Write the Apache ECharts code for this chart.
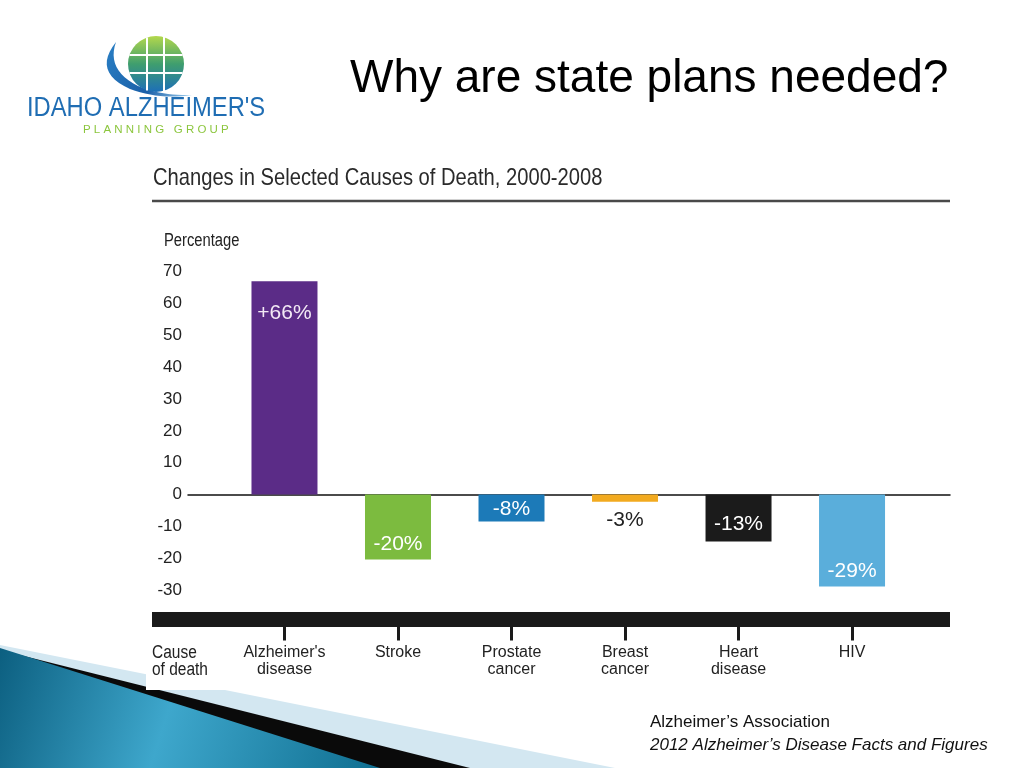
<!DOCTYPE html>
<html><head><meta charset="utf-8">
<script src="https://cdn.jsdelivr.net/npm/echarts@6/dist/echarts.min.js"></script>
<style>html,body{margin:0;padding:0;background:#fff}#c{width:1024px;height:768px}</style>
</head><body><div id="c"></div>
<script>
// ---- data ----
const categories = ["Alzheimer's\ndisease", "Stroke", "Prostate\ncancer", "Breast\ncancer", "Heart\ndisease", "HIV"];
const values = [67, -20.4, -8.5, -2.3, -14.8, -28.9];
const valueLabels = ["+66%", "-20%", "-8%", "-3%", "-13%", "-29%"];
const barColors = ["#5b2c87", "#7cbb3f", "#1c7ab8", "#f2aa1f", "#1b1b1b", "#5aaedb"];
const yMin = -30, yMax = 70, yStep = 10;
const positions = categories.map((c, i) => i + 1);

// ---- styling ----
const SANS = '"Liberation Sans", Arial, sans-serif';
const labelPlacement = [
  { position: 'insideTop', distance: 21, color: '#f3e9f5' },
  { position: 'insideBottom', distance: 5, color: '#fff' },
  { position: 'inside', offset: [0, 1], color: '#fff' },
  { position: 'bottom', distance: 8, color: '#222' },
  { position: 'inside', offset: [0, 6], color: '#fff' },
  { position: 'insideBottom', distance: 5, color: '#fff' }
];

const chart = echarts.init(document.getElementById('c'));

function txt(text, x, y, opts, sx) {
  return {
    type: 'text', z: 5, x: x, y: y, scaleX: sx || 1,
    style: Object.assign({
      text: text, x: 0, y: 0, fill: '#111', fontSize: 16, fontFamily: SANS,
      align: 'left', verticalAlign: 'middle', textAlign: 'left', textVerticalAlign: 'middle'
    }, opts || {})
  };
}
// sample quadratic curves for the logo swoosh outline
function quadPts(p0, c, p1, n) {
  const out = [];
  for (let k = 1; k <= n; k++) {
    const t = k / n, a = (1 - t) * (1 - t), b = 2 * (1 - t) * t, d = t * t;
    out.push([a * p0[0] + b * c[0] + d * p1[0], a * p0[1] + b * c[1] + d * p1[1]]);
  }
  return out;
}
const swoosh = [[116, 42]]
  .concat(quadPts([116, 42], [92, 72], [130, 89], 12))
  .concat(quadPts([130, 89], [160, 100], [192, 95], 12))
  .concat(quadPts([192, 95], [162, 96], [138, 86], 12))
  .concat(quadPts([138, 86], [106, 70], [116, 42], 12));

const option = {
  animation: false,
  backgroundColor: '#fff',
  grid: [
    { left: 188, right: 74, top: 271.7, bottom: 178 },
    { left: 152, right: 74, top: 600, bottom: 148.5 }
  ],
  xAxis: [
    {
      type: 'value', gridIndex: 0, min: 0.15, max: 6.863,
      axisLine: { show: true, onZero: true, lineStyle: { color: '#111', width: 1.5 } },
      axisTick: { show: false }, axisLabel: { show: false }, splitLine: { show: false }
    },
    {
      type: 'value', gridIndex: 1, min: -0.1674, max: 6.863, position: 'bottom',
      axisLine: { show: true, onZero: false, lineStyle: { color: '#1a1a1a', width: 15, cap: 'butt' } },
      axisTick: { show: true, customValues: positions, length: 21, lineStyle: { color: '#1a1a1a', width: 3, cap: 'butt' } },
      axisLabel: {
        show: true, customValues: positions, margin: 25,
        formatter: v => categories[Math.round(v) - 1] || '',
        color: '#222', fontSize: 16, lineHeight: 17, fontFamily: SANS
      },
      splitLine: { show: false }
    }
  ],
  yAxis: [
    {
      type: 'value', gridIndex: 0, min: yMin, max: yMax, interval: yStep,
      axisLine: { show: false }, axisTick: { show: false }, splitLine: { show: false },
      axisLabel: { margin: 6, color: '#222', fontSize: 17, fontFamily: SANS }
    },
    { type: 'value', gridIndex: 1, show: false }
  ],
  series: [{
    type: 'bar', xAxisIndex: 0, yAxisIndex: 0, barWidth: 66,
    data: values.map((v, i) => ({
      value: [positions[i], v],
      itemStyle: { color: barColors[i] },
      label: Object.assign({
        show: true, formatter: valueLabels[i], fontSize: 21, fontFamily: SANS
      }, labelPlacement[i])
    }))
  }],
  graphic: [
    // slide decoration (bottom-left)
    { type: 'polygon', z: -3, shape: { points: [[0, 645], [615, 768], [0, 768]] }, style: { fill: '#d3e7f1' } },
    { type: 'polygon', z: -3, shape: { points: [[0, 650], [470, 768], [0, 768]] }, style: { fill: '#0a0a0a' } },
    { type: 'polygon', z: -3, shape: { points: [[0, 648], [380, 768], [0, 768]] },
      style: { fill: new echarts.graphic.LinearGradient(0, 0, 1, 1, [
        { offset: 0, color: '#0c5f80' }, { offset: 0.45, color: '#3ea7cc' }, { offset: 1, color: '#0f6e90' }]) } },
    // white chart picture area
    { type: 'rect', z: -2, shape: { x: 146, y: 150, width: 878, height: 540 }, style: { fill: '#fff' } },
    // logo
    { type: 'polygon', z: 4, shape: { points: swoosh },
      style: { fill: new echarts.graphic.LinearGradient(0, 0, 1, 1, [
        { offset: 0, color: '#2a7fc4' }, { offset: 0.6, color: '#1a5fa8' }, { offset: 1, color: '#9fd0f0' }]) } },
    { type: 'circle', z: 4, shape: { cx: 156, cy: 64, r: 28 },
      style: { fill: new echarts.graphic.LinearGradient(0, 0, 0, 1, [
        { offset: 0, color: '#b3d84c' }, { offset: 0.5, color: '#3f9e6e' }, { offset: 1, color: '#1d6fb8' }]) } },
    { type: 'line', z: 5, shape: { x1: 147, y1: 37.5, x2: 147, y2: 90.5 }, style: { stroke: '#fff', lineWidth: 2 } },
    { type: 'line', z: 5, shape: { x1: 164, y1: 37, x2: 164, y2: 91 }, style: { stroke: '#fff', lineWidth: 2 } },
    { type: 'line', z: 5, shape: { x1: 129.5, y1: 55, x2: 182.5, y2: 55 }, style: { stroke: '#fff', lineWidth: 2 } },
    { type: 'line', z: 5, shape: { x1: 129.5, y1: 73, x2: 182.5, y2: 73 }, style: { stroke: '#fff', lineWidth: 2 } },
    txt("IDAHO ALZHEIMER'S", 27, 109, { fontSize: 27, fill: '#1f6db3' }, 0.88),
    txt('P L A N N I N G   G R O U P', 83, 130, { fontSize: 11.5, fill: '#8cc63e' }),
    // titles
    txt('Why are state plans needed?', 350, 79, { fontSize: 46, fill: '#000' }),
    txt('Changes in Selected Causes of Death, 2000-2008', 153, 178.5, { fontSize: 24, fill: '#2a2a2a' }, 0.84),
    { type: 'line', z: 5, shape: { x1: 152, y1: 201, x2: 950, y2: 201 }, style: { stroke: '#4a4a4a', lineWidth: 2.5 } },
    txt('Percentage', 164, 241, { fontSize: 18, fill: '#222' }, 0.82),
    txt('Cause\nof death', 152, 645, { fontSize: 18, lineHeight: 17, fill: '#222',
      verticalAlign: 'top', textVerticalAlign: 'top' }, 0.86),
    // source
    txt("Alzheimer\u2019s Association", 650, 722, { fontSize: 17, fill: '#111' }),
    txt("2012 Alzheimer\u2019s Disease Facts and Figures", 650, 745, { fontSize: 17, fill: '#111', fontStyle: 'italic' })
  ]
};
chart.setOption(option);
</script>
</body></html>
